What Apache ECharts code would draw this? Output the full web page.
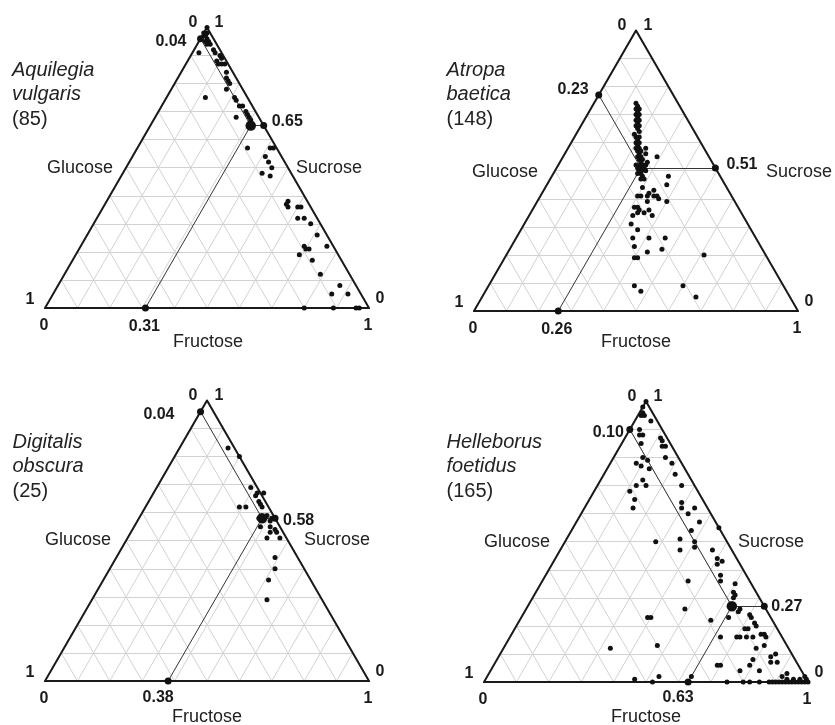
<!DOCTYPE html>
<html>
<head>
<meta charset="utf-8">
<title>Sugar composition of floral nectar</title>
<script src="https://cdn.jsdelivr.net/npm/echarts@6/dist/echarts.min.js"></script>
<style>
  html, body { margin: 0; padding: 0; background: #ffffff; }
  #chart { width: 835px; height: 725px; }
</style>
</head>
<body>
<div id="chart"></div>
<script>
// ---- Data -------------------------------------------------------------
const speciesGenus = ['Aquilegia', 'Atropa', 'Digitalis', 'Helleborus'];
const speciesEpithet = ['vulgaris', 'baetica', 'obscura', 'foetidus'];
const sampleSizes = [85, 148, 25, 165];

// Mean proportions of each sugar per species
const meanGlucose = [0.04, 0.23, 0.04, 0.10];
const meanFructose = [0.31, 0.26, 0.38, 0.63];
const meanSucrose = [0.65, 0.51, 0.58, 0.27];

const axisNames = { glucose: 'Glucose', fructose: 'Fructose', sucrose: 'Sucrose' };
const gridSteps = [0.1, 0.2, 0.3, 0.4, 0.5, 0.6, 0.7, 0.8, 0.9];
const cornerTicks = ['0', '1'];

// Individual nectar samples: [fructose, sucrose]; glucose is the remainder
const aquilegiaSamples = [
  [0.00, 1.00], [0.01, 0.97], [0.01, 0.98], [0.00, 0.98], [0.01, 0.97], [0.02, 0.96], [0.03, 0.95],
  [0.02, 0.95], [0.04, 0.94], [0.03, 0.94], [0.02, 0.91], [0.06, 0.92], [0.07, 0.91], [0.09, 0.90],
  [0.10, 0.89], [0.09, 0.88], [0.10, 0.87], [0.11, 0.87], [0.12, 0.87], [0.14, 0.84], [0.15, 0.82],
  [0.16, 0.81], [0.17, 0.80], [0.17, 0.78], [0.12, 0.75], [0.21, 0.75], [0.22, 0.74], [0.24, 0.72],
  [0.25, 0.72], [0.27, 0.70], [0.28, 0.69], [0.29, 0.68], [0.30, 0.67], [0.25, 0.68], [0.34, 0.57],
  [0.41, 0.57], [0.42, 0.57], [0.41, 0.54], [0.43, 0.52], [0.45, 0.50], [0.43, 0.48], [0.46, 0.47],
  [0.56, 0.38], [0.56, 0.37], [0.57, 0.36], [0.60, 0.36], [0.61, 0.36], [0.62, 0.32], [0.64, 0.32],
  [0.67, 0.30], [0.71, 0.26], [0.69, 0.22], [0.70, 0.21], [0.71, 0.21], [0.69, 0.19], [0.76, 0.22],
  [0.74, 0.17], [0.79, 0.12], [0.87, 0.08], [0.86, 0.05], [0.91, 0.05], [0.80, 0.00], [0.89, 0.00],
  [0.96, 0.00], [0.97, 0.00]
];

const atropaSamples = [
  [0.13, 0.74], [0.14, 0.73], [0.14, 0.72], [0.15, 0.71], [0.15, 0.70], [0.16, 0.69], [0.16, 0.68],
  [0.17, 0.67], [0.17, 0.66], [0.18, 0.65], [0.18, 0.63], [0.19, 0.62], [0.20, 0.61], [0.20, 0.60],
  [0.21, 0.59], [0.21, 0.58], [0.22, 0.57], [0.23, 0.56], [0.23, 0.55], [0.24, 0.54], [0.25, 0.53],
  [0.24, 0.52], [0.27, 0.51], [0.26, 0.50], [0.15, 0.72], [0.16, 0.70], [0.17, 0.68], [0.18, 0.66],
  [0.19, 0.64], [0.20, 0.62], [0.21, 0.60], [0.22, 0.58], [0.23, 0.57], [0.24, 0.55], [0.25, 0.54],
  [0.26, 0.52], [0.28, 0.50], [0.27, 0.49], [0.26, 0.49], [0.25, 0.51], [0.27, 0.52],
  [0.24, 0.58], [0.29, 0.55], [0.27, 0.53], [0.25, 0.56], [0.36, 0.48], [0.37, 0.45], [0.28, 0.48],
  [0.29, 0.47], [0.28, 0.47], [0.30, 0.44], [0.30, 0.41], [0.31, 0.41], [0.33, 0.41], [0.33, 0.42],
  [0.35, 0.41], [0.34, 0.43], [0.36, 0.41], [0.37, 0.40], [0.40, 0.39], [0.34, 0.39], [0.31, 0.37],
  [0.32, 0.37], [0.33, 0.35], [0.33, 0.36], [0.32, 0.34], [0.35, 0.35], [0.36, 0.36], [0.38, 0.34],
  [0.33, 0.31], [0.36, 0.29], [0.36, 0.26], [0.41, 0.26], [0.46, 0.26], [0.38, 0.23], [0.43, 0.21],
  [0.47, 0.22], [0.40, 0.19], [0.41, 0.19], [0.61, 0.20], [0.45, 0.09], [0.48, 0.07], [0.60, 0.09],
  [0.66, 0.05]
];

const digitalisSamples = [
  [0.15, 0.83], [0.20, 0.80], [0.29, 0.69], [0.32, 0.66], [0.32, 0.67], [0.34, 0.67], [0.34, 0.64],
  [0.35, 0.63], [0.36, 0.62], [0.29, 0.62], [0.31, 0.62], [0.37, 0.58], [0.39, 0.59], [0.41, 0.57],
  [0.41, 0.58], [0.39, 0.55], [0.42, 0.55], [0.44, 0.54], [0.43, 0.53], [0.45, 0.53], [0.43, 0.51],
  [0.47, 0.51], [0.49, 0.44], [0.51, 0.40], [0.51, 0.36], [0.54, 0.29]
];

const helleborusSamples = [
  [0.00, 1.00], [0.00, 0.98], [0.01, 0.96], [0.01, 0.95], [0.02, 0.95], [0.05, 0.93], [0.03, 0.90],
  [0.05, 0.88], [0.04, 0.88], [0.06, 0.85], [0.11, 0.87], [0.12, 0.86], [0.13, 0.84], [0.14, 0.84],
  [0.16, 0.80], [0.19, 0.78], [0.22, 0.74], [0.09, 0.80], [0.11, 0.79], [0.08, 0.78], [0.10, 0.77],
  [0.13, 0.76], [0.13, 0.72], [0.12, 0.70], [0.15, 0.70], [0.11, 0.68], [0.14, 0.65], [0.15, 0.62],
  [0.26, 0.70], [0.29, 0.64], [0.30, 0.62], [0.33, 0.60], [0.34, 0.62], [0.38, 0.57], [0.37, 0.54],
  [0.45, 0.55], [0.28, 0.50], [0.35, 0.51], [0.40, 0.50], [0.37, 0.47], [0.41, 0.48], [0.47, 0.47],
  [0.50, 0.44], [0.52, 0.43], [0.51, 0.42], [0.54, 0.38], [0.55, 0.36], [0.45, 0.36], [0.60, 0.35],
  [0.61, 0.32], [0.62, 0.31], [0.62, 0.30], [0.49, 0.26], [0.39, 0.23], [0.40, 0.23], [0.59, 0.22],
  [0.64, 0.23], [0.66, 0.26], [0.66, 0.25], [0.70, 0.24], [0.71, 0.23], [0.73, 0.21], [0.74, 0.20],
  [0.71, 0.19], [0.72, 0.19], [0.77, 0.17], [0.78, 0.17], [0.79, 0.16], [0.75, 0.16], [0.65, 0.16],
  [0.71, 0.16], [0.73, 0.16], [0.70, 0.16], [0.80, 0.13], [0.78, 0.12], [0.47, 0.13], [0.33, 0.12],
  [0.79, 0.08], [0.84, 0.09], [0.85, 0.10], [0.85, 0.07], [0.87, 0.07], [0.79, 0.06], [0.69, 0.06],
  [0.70, 0.06], [0.83, 0.04], [0.77, 0.04], [0.91, 0.02], [0.92, 0.03], [0.53, 0.02], [0.63, 0.02],
  [0.46, 0.01], [0.52, 0.00], [0.75, 0.00], [0.80, 0.00], [0.82, 0.00], [0.85, 0.00], [0.88, 0.00],
  [0.89, 0.00], [0.90, 0.00], [0.91, 0.00], [0.92, 0.00], [0.93, 0.00], [0.94, 0.00], [0.95, 0.00],
  [0.96, 0.00], [0.97, 0.00], [0.98, 0.00], [0.99, 0.00], [1.00, 0.00], [0.93, 0.01], [0.95, 0.01],
  [0.97, 0.01], [0.98, 0.02], [0.99, 0.01]
];

const samplesBySpecies = [aquilegiaSamples, atropaSamples, digitalisSamples, helleborusSamples];

// ---- Layout -----------------------------------------------------------
const SIDE = 324;
const TRI_H = SIDE * Math.sqrt(3) / 2;
const FONT = "'Liberation Sans', Arial, sans-serif";
const INK = '#111111';

const panelLayout = [
  { left: 45, bottom: 308, title: [12, 70],
    glucoseName: [113, 168], sucroseName: [296, 168], fructoseName: [208, 342],
    gOff: [-14, 3], sOff: [8, -4], fOff: [-1, 19] },
  { left: 474, bottom: 311, title: [446.5, 70],
    glucoseName: [538, 172], sucroseName: [766, 172], fructoseName: [636, 342],
    gOff: [-10, -5], sOff: [11, -3], fOff: [-1.5, 19] },
  { left: 45, bottom: 681, title: [12.5, 442],
    glucoseName: [111, 540], sucroseName: [304, 540], fructoseName: [207, 717],
    gOff: [-26, 3], sOff: [8, 2], fOff: [-10, 17] },
  { left: 484, bottom: 682, title: [446.5, 442],
    glucoseName: [550, 542], sucroseName: [738, 542], fructoseName: [646, 717],
    gOff: [-6, 3], sOff: [7, 0.5], fOff: [-10, 16] }
];

// Ternary composition (fructose, sucrose) -> cartesian position in the triangle
function toXY(f, s) { return [f + s / 2, s]; }

function gridLineCoords() {
  const out = [];
  gridSteps.forEach(t => {
    out.push({ coords: [toXY(0, t), toXY(1 - t, t)] });       // constant sucrose
    out.push({ coords: [toXY(t, 0), toXY(t, 1 - t)] });       // constant fructose
    out.push({ coords: [toXY(1 - t, 0), toXY(0, 1 - t)] });   // constant glucose
  });
  return out;
}

const labelFont = { fontFamily: FONT, fontSize: 16, fontWeight: 'bold', color: '#1a1a1a' };
const dotStyle = { color: INK, opacity: 1 };

function panelSeries(i) {
  const ax = { xAxisIndex: i, yAxisIndex: i };
  const g = meanGlucose[i], f = meanFructose[i], s = meanSucrose[i];
  const mean = toXY(f, s);
  const gEnd = toXY(0, 1 - g);      // on the glucose (left) edge
  const sEnd = toXY(1 - s, s);      // on the sucrose (right) edge
  const fEnd = toXY(f, 0);          // on the fructose (bottom) edge
  const L = panelLayout[i];
  const fmt = v => v.toFixed(2);

  const vertexLabel = (pos, text, off) => ({
    value: pos,
    label: { show: true, position: 'inside', formatter: text, offset: off, ...labelFont }
  });

  return [
    {
      type: 'lines', coordinateSystem: 'cartesian2d', ...ax, silent: true, z: 1,
      lineStyle: { color: '#d2d2d2', width: 1, opacity: 1 },
      data: gridLineCoords()
    },
    {
      type: 'lines', coordinateSystem: 'cartesian2d', ...ax, silent: true, z: 2, polyline: true,
      lineStyle: { color: '#1a1a1a', width: 2, opacity: 1, join: 'miter' },
      data: [{ coords: [toXY(0, 0), toXY(1, 0), toXY(0, 1), toXY(0, 0), toXY(1, 0)] }]
    },
    {
      type: 'lines', coordinateSystem: 'cartesian2d', ...ax, silent: true, z: 3,
      lineStyle: { color: '#333333', width: 1, opacity: 1 },
      data: [{ coords: [mean, gEnd] }, { coords: [mean, sEnd] }, { coords: [mean, fEnd] }]
    },
    {
      type: 'scatter', ...ax, silent: true, z: 4, clip: false,
      symbolSize: 5, itemStyle: dotStyle,
      data: samplesBySpecies[i].map(p => toXY(p[0], p[1]))
    },
    {
      type: 'scatter', ...ax, silent: true, z: 5, clip: false,
      symbolSize: 7, itemStyle: dotStyle,
      data: [
        { value: gEnd, label: { show: true, position: 'inside', align: 'right', formatter: fmt(g), offset: L.gOff, ...labelFont } },
        { value: sEnd, label: { show: true, position: 'inside', align: 'left', formatter: fmt(s), offset: L.sOff, ...labelFont } },
        { value: fEnd, label: { show: true, position: 'inside', align: 'center', formatter: fmt(f), offset: L.fOff, ...labelFont } }
      ]
    },
    {
      type: 'scatter', ...ax, silent: true, z: 6, clip: false,
      symbolSize: 10.5, itemStyle: dotStyle,
      data: [mean]
    },
    {
      type: 'scatter', ...ax, silent: true, z: 6, clip: false,
      symbolSize: 0, itemStyle: dotStyle,
      data: [
        vertexLabel(toXY(0, 1), cornerTicks[0], [-14, -5]),
        vertexLabel(toXY(0, 1), cornerTicks[1], [12, -5]),
        vertexLabel(toXY(0, 0), cornerTicks[1], [-15, -8]),
        vertexLabel(toXY(0, 0), cornerTicks[0], [-1, 18]),
        vertexLabel(toXY(1, 0), cornerTicks[0], [11, -9]),
        vertexLabel(toXY(1, 0), cornerTicks[1], [-1, 18])
      ]
    }
  ];
}

function panelGraphics(i) {
  const L = panelLayout[i];
  const nameStyle = { fontFamily: FONT, fontSize: 18, fill: '#222222' };
  const titleStyle = { fontFamily: FONT, fontSize: 20, fill: '#222222' };
  return [
    { type: 'text', x: L.title[0], y: L.title[1],
      style: { text: speciesGenus[i], fontStyle: 'italic', verticalAlign: 'middle', ...titleStyle } },
    { type: 'text', x: L.title[0], y: L.title[1] + 24.5,
      style: { text: speciesEpithet[i], fontStyle: 'italic', verticalAlign: 'middle', ...titleStyle } },
    { type: 'text', x: L.title[0], y: L.title[1] + 49,
      style: { text: '(' + sampleSizes[i] + ')', verticalAlign: 'middle', ...titleStyle } },
    { type: 'text', x: L.glucoseName[0], y: L.glucoseName[1],
      style: { text: axisNames.glucose, align: 'right', verticalAlign: 'middle', ...nameStyle } },
    { type: 'text', x: L.sucroseName[0], y: L.sucroseName[1],
      style: { text: axisNames.sucrose, align: 'left', verticalAlign: 'middle', ...nameStyle } },
    { type: 'text', x: L.fructoseName[0], y: L.fructoseName[1],
      style: { text: axisNames.fructose, align: 'center', verticalAlign: 'middle', ...nameStyle } }
  ];
}

const chart = echarts.init(document.getElementById('chart'), null, { renderer: 'canvas' });
const idx = [0, 1, 2, 3];

chart.setOption({
  animation: false,
  backgroundColor: '#ffffff',
  grid: idx.map(i => ({
    left: panelLayout[i].left,
    top: panelLayout[i].bottom - TRI_H,
    width: SIDE,
    height: TRI_H,
    containLabel: false
  })),
  xAxis: idx.map(i => ({ gridIndex: i, type: 'value', min: 0, max: 1, show: false })),
  yAxis: idx.map(i => ({ gridIndex: i, type: 'value', min: 0, max: 1, show: false })),
  series: idx.flatMap(panelSeries),
  graphic: idx.flatMap(panelGraphics)
});
</script>
</body>
</html>
